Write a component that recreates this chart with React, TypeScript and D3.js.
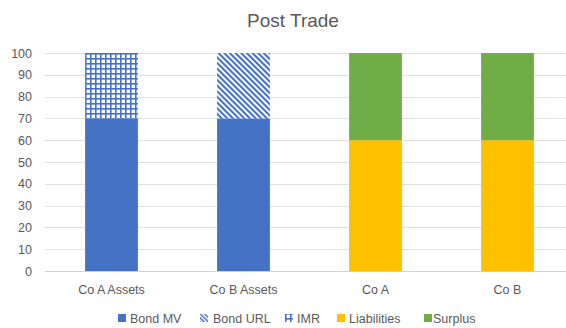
import React from "react";
import * as d3 from "d3";

const categories = ["Co A Assets", "Co B Assets", "Co A", "Co B"];
const seriesNames = ["Bond MV", "Bond URL", "IMR", "Liabilities", "Surplus"];
const bondMV = [70, 70, 0, 0];
const bondURL = [0, 30, 0, 0];
const imr = [30, 0, 0, 0];
const liabilities = [0, 0, 60, 60];
const surplus = [0, 0, 40, 40];
const yTicks = [0, 10, 20, 30, 40, 50, 60, 70, 80, 90, 100];

const BLUE = "#4472C4";
const fills: Record<string, string> = {
  "Bond MV": BLUE,
  "Bond URL": "url(#diag)",
  IMR: "url(#grid)",
  Liabilities: "#FFC000",
  Surplus: "#70AD47",
};

const W = 566;
const H = 328;
const FONT = "'Liberation Sans', Arial, sans-serif";

export default function App() {
  const rows = categories.map((c, i) => ({
    cat: c,
    "Bond MV": bondMV[i],
    "Bond URL": bondURL[i],
    IMR: imr[i],
    Liabilities: liabilities[i],
    Surplus: surplus[i],
  }));
  const stacked = d3.stack<any>().keys(seriesNames)(rows);

  const x = d3
    .scaleBand<string>()
    .domain(categories)
    .range([45.5, 573.5])
    .paddingInner(0.6)
    .paddingOuter(0.3);
  const y = d3.scaleLinear().domain([0, 100]).range([271, 53]);

  const legendItems = [
    { name: "Bond MV", icon: 118, text: 130 },
    { name: "Bond URL", icon: 200, text: 213 },
    { name: "IMR", icon: 285, text: 297 },
    { name: "Liabilities", icon: 337, text: 349 },
    { name: "Surplus", icon: 424, text: 433 },
  ];

  return (
    <svg
      width={W}
      height={H}
      style={{ position: "absolute", left: 0, top: 0, background: "#fff" }}
      fontFamily={FONT}
    >
      <defs>
        <pattern id="grid" width={5} height={5} patternUnits="userSpaceOnUse" x={85} y={53}>
          <rect width={5} height={5} fill="#fff" />
          <rect x={0} y={0} width={5} height={1.6} fill={BLUE} />
          <rect x={0} y={0} width={1.6} height={5} fill={BLUE} />
        </pattern>
        <pattern
          id="diag"
          width={4}
          height={4}
          patternUnits="userSpaceOnUse"
          patternTransform="rotate(-45)"
        >
          <rect width={4} height={4} fill="#fff" />
          <rect x={0} y={0} width={2.1} height={4} fill={BLUE} />
        </pattern>
        <pattern id="diagSmall" width={3} height={3} patternUnits="userSpaceOnUse" patternTransform="rotate(-45)">
          <rect width={3} height={3} fill="#fff" />
          <rect x={0} y={0} width={1.5} height={3} fill={BLUE} />
        </pattern>
      </defs>

      <text x={293} y={27} textAnchor="middle" fontSize={19} fill="#595959">
        Post Trade
      </text>

      {yTicks.map((t) => (
        <g key={t}>
          <line
            x1={45}
            x2={W}
            y1={Math.round(y(t)) + 0.5}
            y2={Math.round(y(t)) + 0.5}
            stroke={t === 0 ? "#d0d0d0" : "#e0e0e0"}
            strokeWidth={1}
          />
          <text x={32} y={y(t) + 4.5} textAnchor="end" fontSize={12.5} fill="#595959">
            {t}
          </text>
        </g>
      ))}

      {stacked.map((s) => (
        <g key={s.key}>
          {s.map((d, i) =>
            d[1] - d[0] > 0 ? (
              <rect
                key={i}
                x={x(categories[i])}
                width={x.bandwidth()}
                y={y(d[1])}
                height={y(d[0]) - y(d[1])}
                fill={fills[s.key]}
              />
            ) : null
          )}
        </g>
      ))}

      {categories.map((c) => (
        <text
          key={c}
          x={(x(c) as number) + x.bandwidth() / 2}
          y={294}
          textAnchor="middle"
          fontSize={12.5}
          fill="#595959"
        >
          {c}
        </text>
      ))}

      {legendItems.map((l) => (
        <g key={l.name}>
          <rect
            x={l.icon}
            y={314}
            width={8}
            height={8}
            fill={l.name === "Bond URL" ? "url(#diagSmall)" : l.name === "IMR" ? "url(#grid)" : fills[l.name]}
          />
          <text x={l.text} y={322.5} fontSize={12.5} fill="#595959">
            {l.name}
          </text>
        </g>
      ))}
    </svg>
  );
}
